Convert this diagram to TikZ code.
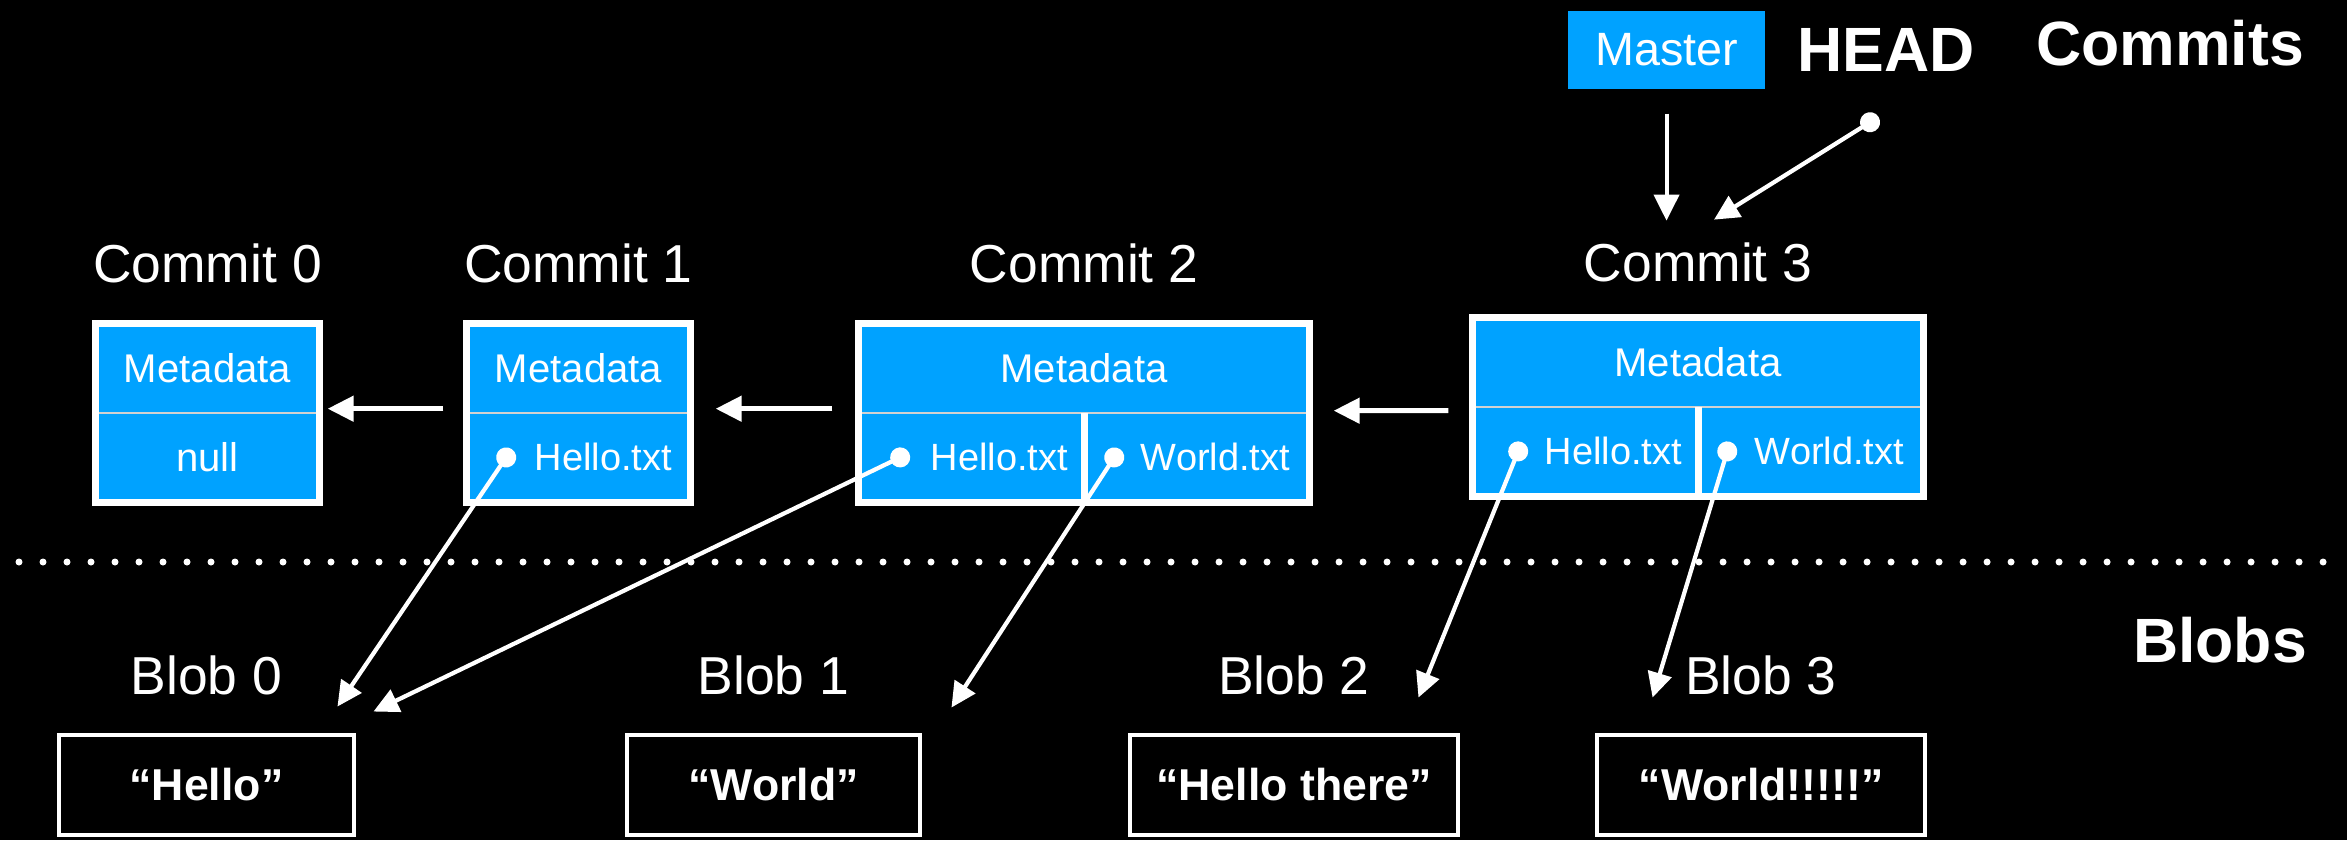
\documentclass[tikz,border=0pt]{standalone}
\usepackage{fontspec}
\setmainfont{Liberation Sans}
\usepackage{xcolor}
\usetikzlibrary{arrows.meta,positioning}
\definecolor{gitblue}{HTML}{00A2FF}
\definecolor{cellline}{HTML}{D2D2D2}

\begin{document}
\begin{tikzpicture}[
    cell/.style={rectangle, fill=gitblue, text=white, inner sep=0pt, minimum height=0.88cm, font=\fontsize{11.4}{13}\selectfont},
    fname/.style={text=white, inner sep=0pt, font=\fontsize{10.8}{12}\selectfont},
    frame/.style={draw=white, line width=2pt},
    rowline/.style={draw=cellline, line width=0.6pt},
    nametag/.style={text=white, inner sep=0pt, font=\fontsize{15.2}{17}\selectfont},
    title/.style={text=white, inner sep=0pt, font=\fontsize{17.8}{20}\selectfont\bfseries},
    branch/.style={rectangle, fill=gitblue, text=white, minimum width=1.97cm, minimum height=0.78cm, inner sep=0pt, font=\fontsize{13.3}{15}\selectfont},
    blob/.style={rectangle, draw=white, line width=1.4pt, text=white, minimum height=1.0cm, inner sep=0pt, font=\fontsize{12.7}{15}\selectfont\bfseries},
    arrow/.style={draw=white, line width=1.4pt, -{Triangle[length=0.26cm,width=0.25cm]}},
    pointer/.style={draw=white, line width=1.2pt, {Circle[length=0.2cm]}-{Triangle[length=0.25cm,width=0.24cm]}, shorten <=-0.1cm}
]

\fill[black] (0,0) rectangle (23.47,-8.40);
\useasboundingbox (0,0) rectangle (23.47,-8.40);

% Branch, HEAD and titles
\node[branch] (master) at (16.665,-0.50) {Master};
\node[title, right=0.31cm of master] (head) {HEAD};
\node[title] (commits) at (21.70,-0.43) {Commits};
\node[title] (blobs) at (22.20,-6.40) {Blobs};

% Commit 0
\node[cell, minimum width=2.23cm] (meta0) at (2.075,-3.68) {Metadata};
\node[cell, minimum width=2.23cm, below=0pt of meta0] (file0) {null};
\draw[rowline] (meta0.south west) -- (meta0.south east);
\draw[frame] (meta0.north west) rectangle (file0.south east);
\node[nametag, above=0.40cm of meta0] (name0) {Commit 0};

% Commit 1
\node[cell, minimum width=2.23cm] (meta1) at (5.785,-3.68) {Metadata};
\node[cell, minimum width=2.23cm, below=0pt of meta1] (file1) {};
\node[fname, anchor=east] (hello1) at ([xshift=-0.18cm]file1.east) {Hello.txt};
\draw[rowline] (meta1.south west) -- (meta1.south east);
\draw[frame] (meta1.north west) rectangle (file1.south east);
\node[nametag, above right=0.40cm and -0.03cm of meta1.north west] (name1) {Commit 1};

% Commit 2
\node[cell, minimum width=4.50cm] (meta2) at (10.84,-3.68) {Metadata};
\node[cell, minimum width=2.25cm, below right=0pt and 0pt of meta2.south west] (file2a) {};
\node[cell, minimum width=2.25cm, below left=0pt and 0pt of meta2.south east] (file2b) {};
\node[fname, anchor=east] (hello2) at ([xshift=-0.16cm]file2a.east) {Hello.txt};
\node[fname, anchor=east] (world2) at ([xshift=-0.19cm]file2b.east) {World.txt};
\draw[rowline] (meta2.south west) -- (meta2.south east);
\draw[frame] (meta2.north west) rectangle (file2b.south east);
\draw[frame] (file2a.north east) -- (file2a.south east);
\node[nametag, above=0.40cm of meta2] (name2) {Commit 2};

% Commit 3
\node[cell, minimum width=4.50cm] (meta3) at (16.98,-3.62) {Metadata};
\node[cell, minimum width=2.25cm, below right=0pt and 0pt of meta3.south west] (file3a) {};
\node[cell, minimum width=2.25cm, below left=0pt and 0pt of meta3.south east] (file3b) {};
\node[fname, anchor=east] (hello3) at ([xshift=-0.16cm]file3a.east) {Hello.txt};
\node[fname, anchor=east] (world3) at ([xshift=-0.19cm]file3b.east) {World.txt};
\draw[rowline] (meta3.south west) -- (meta3.south east);
\draw[frame] (meta3.north west) rectangle (file3b.south east);
\draw[frame] (file3a.north east) -- (file3a.south east);
\node[nametag, above=0.35cm of meta3] (name3) {Commit 3};

% Separator
\draw[white, line width=0.07cm, line cap=round, dash pattern=on 0pt off 0.24cm] (0.19,-5.62) -- (23.27,-5.62);

% Blobs
\node[blob, minimum width=2.95cm] (blob0) at (2.065,-7.85) {“Hello”};
\node[blob, minimum width=2.93cm] (blob1) at (7.735,-7.85) {“World”};
\node[blob, minimum width=3.28cm] (blob2) at (12.94,-7.85) {“Hello there”};
\node[blob, minimum width=3.28cm] (blob3) at (17.61,-7.85) {“World!!!!!”};
\node[nametag, above=0.37cm of blob0] (bname0) {Blob 0};
\node[nametag, above=0.37cm of blob1] (bname1) {Blob 1};
\node[nametag, above=0.37cm of blob2] (bname2) {Blob 2};
\node[nametag, above=0.37cm of blob3] (bname3) {Blob 3};

% Parent links
\draw[arrow] ([shift={(-0.23,0.04)}]meta1.south west) -- ([shift={(0.08,0.04)}]meta0.south east);
\draw[arrow] ([shift={(-0.26,0.04)}]meta2.south west) -- ([shift={(0.25,0.04)}]meta1.south east);
\draw[arrow] ([shift={(-0.24,-0.04)}]meta3.south west) -- ([shift={(0.24,0.02)}]meta2.south east);

% Master and HEAD
\draw[arrow, line width=1.15pt, shorten <=0.24cm, shorten >=0.21cm] (master.south) -- (master.south |- name3.north);
\coordinate (headdot) at ([shift={(-0.16,-0.50)}]head.south);
\draw[pointer] (headdot) -- ([shift={(0.16,0.22)}]name3.north);

% Files to blobs
\draw[pointer] ([xshift=-0.28cm]hello1.west) -- ([shift={(-0.19,0.26)}]blob0.north east);
\draw[pointer] ([xshift=-0.30cm]hello2.west) -- ([shift={(0.17,0.21)}]blob0.north east);
\draw[pointer] ([xshift=-0.26cm]world2.west) -- ([shift={(0.29,0.25)}]blob1.north east);
\draw[pointer] ([xshift=-0.26cm]hello3.west) -- ([shift={(-0.42,0.35)}]blob2.north east);
\draw[pointer] ([xshift=-0.27cm]world3.west) -- ([shift={(0.58,0.35)}]blob3.north west);

\end{tikzpicture}
\end{document}
